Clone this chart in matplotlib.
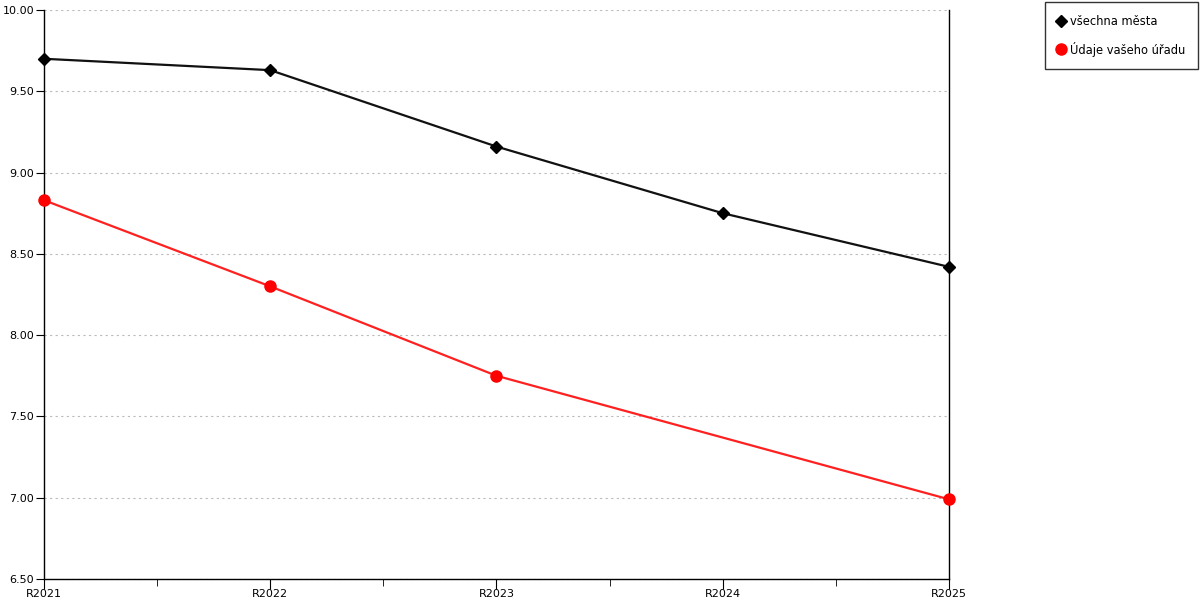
import numpy as np
import matplotlib
matplotlib.use("Agg")
import matplotlib.pyplot as plt
from matplotlib.ticker import FormatStrFormatter, MultipleLocator

# Data
years = ["R2021", "R2022", "R2023", "R2024", "R2025"]
all_cities = [9.70, 9.63, 9.16, 8.75, 8.42]
your_office = [8.83, 8.30, 7.75, np.nan, 6.99]

plt.rcParams['font.family'] = ['DejaVu Sans']

fig = plt.figure(figsize=(12, 6), dpi=100)
ax = fig.add_axes([44 / 1200, 21 / 600, (949 - 44) / 1200, (579 - 10) / 600])

x = np.arange(len(years))
ax.plot(x, all_cities, color='#111111', lw=1.6, marker='D', ms=6,
        markerfacecolor='black', markeredgecolor='black', label='všechna města',
        clip_on=False, zorder=3)

# the office has no value for R2024, line runs straight through
office = np.array(your_office)
ok = ~np.isnan(office)
ax.plot(x[ok], office[ok], color='#ff2020', lw=1.6, marker='o', ms=8,
        markerfacecolor='red', markeredgecolor='red', label='Údaje vašeho úřadu',
        clip_on=False, zorder=3)

ax.set_xlim(0, len(years) - 1)
ax.set_ylim(6.5, 10.0)
ax.set_xticks(x)
ax.set_xticklabels(years)
ax.set_xticks(x[:-1] + 0.5, minor=True)
ax.yaxis.set_major_locator(MultipleLocator(0.5))
ax.yaxis.set_major_formatter(FormatStrFormatter('%.2f'))

ax.tick_params(axis='both', which='both', direction='out', labelsize=8,
               color='black', pad=1)
ax.tick_params(axis='x', which='major', length=7, pad=0)
ax.tick_params(axis='x', which='minor', length=5)
ax.tick_params(axis='y', length=6)

ax.grid(axis='y', linestyle=(0, (2, 3)), color='#bbbbbb', lw=0.8)
ax.spines['top'].set_visible(False)
for s in ['left', 'right', 'bottom']:
    ax.spines[s].set_linewidth(1.0)
    ax.spines[s].set_color('black')

leg = fig.legend(loc='upper right', bbox_to_anchor=(1198 / 1200, 1 - 2 / 600),
                 frameon=True, fancybox=False, edgecolor='black', fontsize=8.3,
                 handlelength=0.7, handletextpad=0.4, borderpad=1.1,
                 labelspacing=1.2, borderaxespad=0)
leg.get_frame().set_linewidth(1.0)
for h in leg.legend_handles:
    h.set_linestyle('None')

fig.savefig('out.png', dpi=100)
